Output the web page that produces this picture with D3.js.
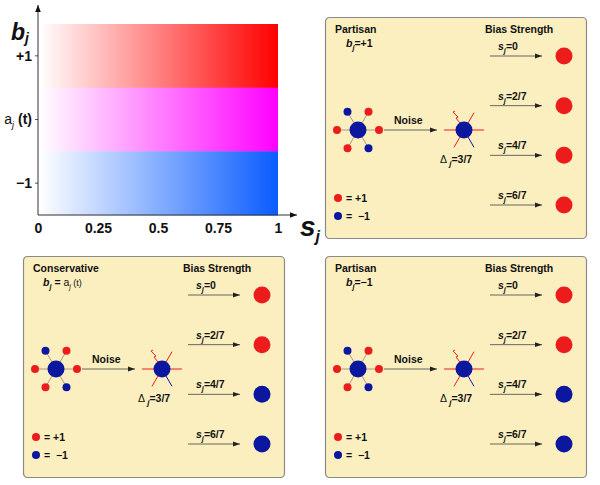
<!DOCTYPE html>
<html><head><meta charset="utf-8">
<script src="https://cdn.jsdelivr.net/npm/d3@7"></script>
<style>body{margin:0;background:#fff}svg{display:block;font-family:"Liberation Sans",Arial,sans-serif}</style>
</head><body><svg id="c" width="600" height="485"></svg>
<script>
// ---- data ----
const bands = ["+1", "a(t)", "-1"];
const bandColors = ["#ff0000", "#ff00ff", "#0a5cff"];
const sTicks = [0, 0.25, 0.5, 0.75, 1];
const sTickLabels = ["0", "0.25", "0.5", "0.75", "1"];
const strengths = ["0", "2/7", "4/7", "6/7"];
const panelTitles = ["Partisan", "Conservative", "Partisan"];
const panelBias = ["=+1", "a", "=\u22121"];
const panelOutcomes = [[1, 1, 1, 1], [1, 1, -1, -1], [1, 1, -1, -1]];
const neighbourAngles = [0, -60, -120, 180, 120, 60];
const neighbourColors = [1, 1, -1, 1, 1, -1];
const delta = "3/7";

const RED = "#ec1c1c", BLUE = "#0b179e";
const FS = 10.5;
const svg = d3.select("#c");
const defs = svg.append("defs");
defs.append("marker").attr("id", "ah").attr("viewBox", "0 0 10 10").attr("refX", 10).attr("refY", 5)
  .attr("markerWidth", 9).attr("markerHeight", 7).attr("markerUnits", "userSpaceOnUse").attr("orient", "auto")
  .append("path").attr("d", "M0,1 L10,5 L0,9 Z").attr("fill", "#111");
defs.append("marker").attr("id", "ah2").attr("viewBox", "0 0 10 10").attr("refX", 10).attr("refY", 5)
  .attr("markerWidth", 11).attr("markerHeight", 7).attr("markerUnits", "userSpaceOnUse").attr("orient", "auto")
  .append("path").attr("d", "M0,1.5 L10,5 L0,8.5 Z").attr("fill", "#222");

// ---- heatmap ----
const x = d3.scaleLinear().domain([0, 1]).range([38, 278]);
const y = d3.scaleBand().domain(bands).range([24, 215]).padding(0);
bands.forEach((b, i) => {
  const gr = defs.append("linearGradient").attr("id", "g" + i).attr("x1", 0).attr("x2", 1).attr("y1", 0).attr("y2", 0);
  gr.append("stop").attr("offset", 0).attr("stop-color", "#fff");
  gr.append("stop").attr("offset", 1).attr("stop-color", bandColors[i]);
});
svg.append("g").selectAll("rect").data(bands).join("rect")
  .attr("x", x(0) + 1).attr("y", d => y(d)).attr("width", x(1) - x(0) - 1).attr("height", y.bandwidth() + 0.5)
  .attr("fill", (d, i) => `url(#g${i})`);

const yAx = svg.append("g").attr("transform", `translate(${x(0)},0)`)
  .call(d3.axisLeft(y).tickSize(3).tickSizeOuter(0).tickFormat(""));
yAx.select(".domain").remove();
yAx.selectAll(".tick line").attr("stroke", "#555");
yAx.selectAll(".tick").each(function(d) {
  const t = d3.select(this).append("text").attr("x", -6).attr("dy", "0.35em").attr("text-anchor", "end")
    .attr("fill", "#111").attr("font-size", 14);
  if (d === "a(t)") {
    t.append("tspan").text("a");
    t.append("tspan").attr("font-style", "italic").attr("font-size", 9).attr("dy", 4).text("j");
    t.append("tspan").attr("dy", -4).attr("font-weight", "bold").text(" (t)");
  } else t.attr("font-weight", "bold").text(d === "-1" ? "\u22121" : d);
});
const xAx = svg.append("g").attr("transform", `translate(0,215)`)
  .call(d3.axisBottom(x).tickValues(sTicks).tickSize(0).tickFormat((d, i) => sTickLabels[i]));
xAx.select(".domain").remove();
xAx.selectAll("text").attr("font-size", 14).attr("font-weight", "bold").attr("fill", "#111").attr("dy", "1.05em")
  .attr("font-family", "Liberation Sans, Arial, sans-serif");
svg.append("line").attr("x1", x(0)).attr("y1", 215).attr("x2", x(0)).attr("y2", 5).attr("stroke", "#333").attr("stroke-width", 1).attr("marker-end", "url(#ah)");
svg.append("line").attr("x1", x(0)).attr("y1", 215).attr("x2", 297).attr("y2", 215).attr("stroke", "#333").attr("stroke-width", 1).attr("marker-end", "url(#ah)");
const bl = svg.append("text").attr("x", 11).attr("y", 40).attr("font-size", 23).attr("font-weight", "bold").attr("font-style", "italic").attr("fill", "#111");
bl.append("tspan").text("b"); bl.append("tspan").attr("font-size", 14).attr("dy", 3).text("j");
const sl = svg.append("text").attr("x", 300).attr("y", 236).attr("font-size", 28).attr("font-weight", "bold").attr("font-style", "italic").attr("fill", "#111");
sl.append("tspan").text("s"); sl.append("tspan").attr("font-size", 16).attr("dy", 6).text("j");

// ---- panels ----
const panelPos = [[325, 17], [23, 256], [325, 256]];
const W = 261, H = 221;
const rowY = d3.scalePoint().domain(strengths).range([39, 188]);
function sub(t, base, subTxt, rest, size) {
  t.append("tspan").attr("font-style", "italic").text(base);
  t.append("tspan").attr("font-style", "italic").attr("font-size", size * 0.7).attr("dy", 3).text(subTxt);
  t.append("tspan").attr("dy", -3).text(rest);
}
panelPos.forEach((p, k) => {
  const g = svg.append("g").attr("transform", `translate(${p[0]},${p[1]})`);
  g.append("rect").attr("x", 0.5).attr("y", 0.5).attr("width", W).attr("height", H).attr("rx", 4)
    .attr("fill", "#fcefbf").attr("stroke", "#8a8a8a").attr("stroke-width", 1.2);
  g.append("text").attr("x", 10).attr("y", 16).attr("font-size", FS).attr("font-weight", "bold").attr("fill", "#111").text(panelTitles[k]);
  const bt = g.append("text").attr("x", k === 1 ? 20 : 21).attr("y", 30).attr("font-size", FS).attr("font-weight", "bold").attr("fill", "#111");
  if (panelBias[k] === "a") {
    sub(bt, "b", "j", " = ", FS);
    bt.append("tspan").attr("font-weight", "normal").text("a");
    bt.append("tspan").attr("font-weight", "normal").attr("font-style", "italic").attr("font-size", 7).attr("dy", 3).text("j");
    bt.append("tspan").attr("font-weight", "normal").attr("font-size", 9).attr("dy", -3).text(" (t)");
  } else sub(bt, "b", "j", panelBias[k], FS);
  g.append("text").attr("x", 160).attr("y", 16).attr("font-size", FS).attr("font-weight", "bold").attr("fill", "#111").text("Bias Strength");
  strengths.forEach((s, i) => {
    const yy = rowY(s);
    g.append("line").attr("x1", 165).attr("x2", 217).attr("y1", yy).attr("y2", yy).attr("stroke", "#555").attr("stroke-width", 0.9).attr("marker-end", "url(#ah2)");
    const st = g.append("text").attr("x", 173).attr("y", yy - 6).attr("font-size", FS).attr("font-weight", "bold").attr("fill", "#111");
    sub(st, "s", "j", "=" + s, FS);
    g.append("circle").attr("cx", 239).attr("cy", yy).attr("r", 8.5).attr("fill", panelOutcomes[k][i] > 0 ? RED : BLUE);
  });
  // star node
  const cx = 33, cy = 113, R = 21;
  neighbourAngles.forEach((a, i) => {
    const r = a * Math.PI / 180;
    g.append("line").attr("x1", cx).attr("y1", cy).attr("x2", cx + R * Math.cos(r)).attr("y2", cy + R * Math.sin(r))
      .attr("stroke", "#a89a80").attr("stroke-width", 1);
  });
  neighbourAngles.forEach((a, i) => {
    const r = a * Math.PI / 180;
    g.append("circle").attr("cx", cx + R * Math.cos(r)).attr("cy", cy + R * Math.sin(r)).attr("r", 4)
      .attr("fill", neighbourColors[i] > 0 ? RED : BLUE);
  });
  g.append("circle").attr("cx", cx).attr("cy", cy).attr("r", 8.5).attr("fill", BLUE);
  g.append("line").attr("x1", 59).attr("x2", 112).attr("y1", cy).attr("y2", cy).attr("stroke", "#555").attr("stroke-width", 0.9).attr("marker-end", "url(#ah2)");
  g.append("text").attr("x", 69).attr("y", cy - 6).attr("font-size", FS).attr("font-weight", "bold").attr("fill", "#111").text("Noise");
  // noisy node
  const nx = 139;
  neighbourAngles.forEach((a, i) => {
    const r = a * Math.PI / 180;
    if (a === -120) {
      const x0 = nx + 8 * Math.cos(r), y0 = cy + 8 * Math.sin(r);
      g.append("path").attr("d", `M${x0},${y0} L${x0 - 4},${y0 - 5} L${x0 - 2},${y0 - 6} L${x0 - 7},${y0 - 11} L${x0 - 5},${y0 - 12}`)
        .attr("fill", "none").attr("stroke", RED).attr("stroke-width", 1);
    } else {
      g.append("line").attr("x1", nx + 8 * Math.cos(r)).attr("y1", cy + 8 * Math.sin(r))
        .attr("x2", nx + 20 * Math.cos(r)).attr("y2", cy + 20 * Math.sin(r))
        .attr("stroke", neighbourColors[i] > 0 ? RED : BLUE).attr("stroke-width", 1);
    }
  });
  g.append("circle").attr("cx", nx).attr("cy", cy).attr("r", 8.5).attr("fill", BLUE);
  const dt = g.append("text").attr("x", 115).attr("y", cy + 33).attr("font-size", FS).attr("font-weight", "bold").attr("fill", "#111");
  dt.append("tspan").attr("font-weight", "normal").text("\u0394");
  dt.append("tspan").attr("font-style", "italic").attr("font-size", 8).attr("dy", 3).text(" j");
  dt.append("tspan").attr("dy", -3).text("=" + delta);
  // legend
  [[1, "= +1"], [-1, "=  \u22121"]].forEach((d, i) => {
    g.append("circle").attr("cx", 13).attr("cy", 181 + i * 18).attr("r", 4).attr("fill", d[0] > 0 ? RED : BLUE);
    g.append("text").attr("x", 21).attr("y", 185 + i * 18).attr("font-size", FS).attr("font-weight", "bold").attr("fill", "#111")
      .style("white-space", "pre").text(d[1]);
  });
});
</script></body></html>
